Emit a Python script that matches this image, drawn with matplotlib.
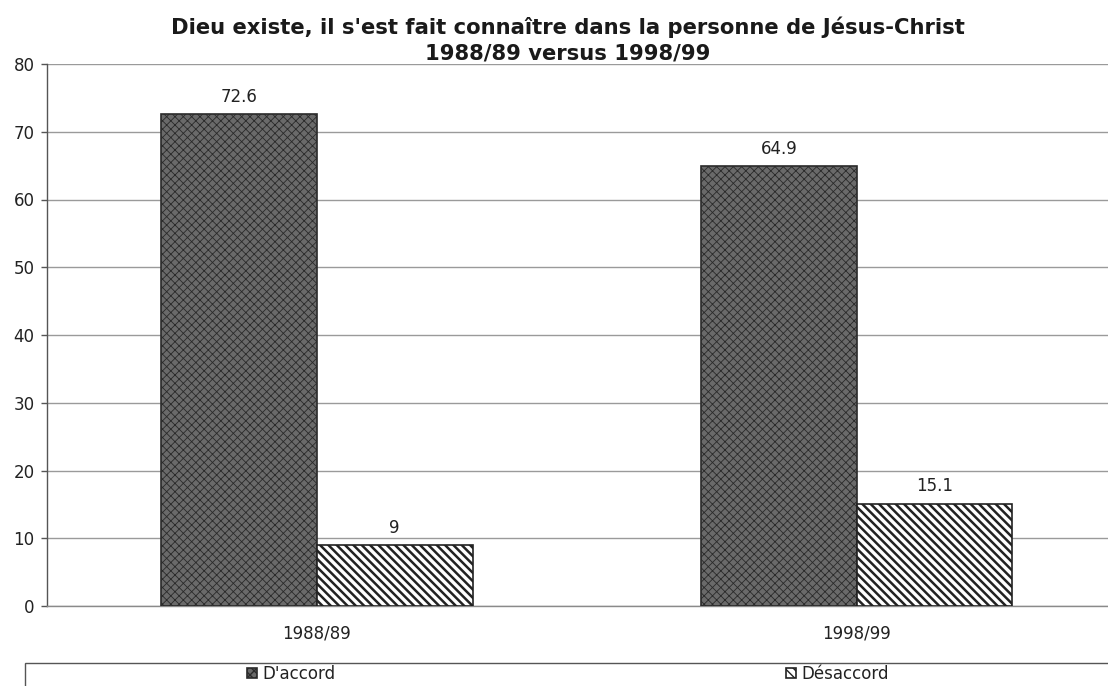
import matplotlib
matplotlib.use("Agg")
import matplotlib.pyplot as plt
from matplotlib.patches import Rectangle
import numpy as np

# ---- data ----
categories = ["1988/89", "1998/99"]
series_names = ["D'accord", "Désaccord"]
accord = [72.6, 64.9]
desaccord = [9, 15.1]
value_labels_accord = ["72.6", "64.9"]
value_labels_desaccord = ["9", "15.1"]
yticks = [0, 10, 20, 30, 40, 50, 60, 70, 80]
title = "Dieu existe, il s'est fait connaître dans la personne de Jésus-Christ\n1988/89 versus 1998/99"

plt.rcParams['font.family'] = ['DejaVu Sans']
W, H = 1108, 686
fig = plt.figure(figsize=(W / 100, H / 100), dpi=100)
fig.patch.set_facecolor('white')

# axes position (pixels -> figure fraction)
ax_left, ax_right, ax_bottom, ax_top = 47, 1126.5, 606, 64
ax = fig.add_axes([ax_left / W, 1 - ax_bottom / H, (ax_right - ax_left) / W, (ax_bottom - ax_top) / H])

x = np.arange(len(categories))
bw = 0.2885

with plt.rc_context({'hatch.linewidth': 0.6}):
    b1 = ax.bar(x - bw / 2, accord, width=bw, facecolor='#6a6a6a', edgecolor='#2a2a2a',
                hatch='xxxx', linewidth=1.2, zorder=3, label=series_names[0])
with plt.rc_context({'hatch.linewidth': 1.8}):
    b2 = ax.bar(x + bw / 2, desaccord, width=bw, facecolor='white', edgecolor='#222222',
                hatch='\\\\\\\\', linewidth=1.2, zorder=3, label=series_names[1])

for rect, lab in zip(b1, value_labels_accord):
    ax.annotate(lab, (rect.get_x() + rect.get_width() / 2, rect.get_height()),
                xytext=(0, 9), textcoords='offset points', ha='center', va='baseline',
                fontsize=12, color='#222222')
for rect, lab in zip(b2, value_labels_desaccord):
    ax.annotate(lab, (rect.get_x() + rect.get_width() / 2, rect.get_height()),
                xytext=(0, 9), textcoords='offset points', ha='center', va='baseline',
                fontsize=12, color='#222222')

ax.set_xlim(-0.5, 1.5)
ax.set_ylim(0, 80)
ax.set_yticks(yticks)
ax.set_yticklabels([str(v) for v in yticks], fontsize=12, color='#222222')
ax.set_xticks(x)
ax.set_xticklabels(categories, fontsize=12, color='#222222')
ax.tick_params(axis='x', length=0, pad=13)
ax.tick_params(axis='y', length=4, width=1, color='#555555', pad=5)
ax.grid(axis='y', color='#9a9a9a', linewidth=1.0, zorder=0)
ax.set_axisbelow(True)
for s in ['top', 'right']:
    ax.spines[s].set_visible(False)
ax.spines['left'].set_color('#555555')
ax.spines['left'].set_linewidth(1.0)
ax.spines['bottom'].set_color('#8a8a8a')
ax.spines['bottom'].set_linewidth(1.0)

# title
fig.text(568 / W, 1 - 17 / H, title, ha='center', va='top', fontsize=15.2,
         fontweight='bold', color='#1a1a1a', linespacing=1.3)

# legend frame
fig.patches.append(Rectangle((25 / W, -0.1), 1.2, 0.1 + (H - 663) / H, transform=fig.transFigure,
                             facecolor='white', edgecolor='#555555', linewidth=1.0, zorder=0))
fs = 12
px_per_em = fs * 100 / 72
leg = fig.legend(handles=[b1, b2], labels=series_names, ncol=2, frameon=False,
                 loc='center left', bbox_to_anchor=(247 / W, 1 - 674 / H),
                 borderpad=0, borderaxespad=0, handlelength=0.6, handleheight=0.6,
                 handletextpad=0.3, columnspacing=(540 - 10 - 5 - 74) / px_per_em,
                 fontsize=fs)
for t in leg.get_texts():
    t.set_color('#222222')

fig.savefig('out.png', dpi=100)
